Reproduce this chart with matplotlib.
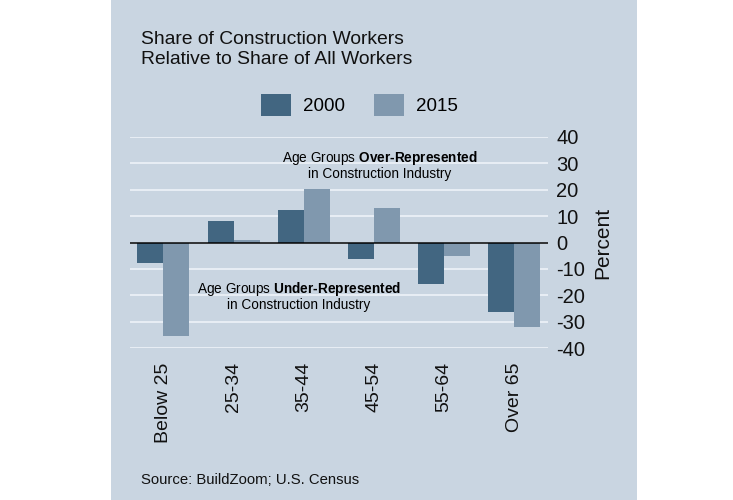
import numpy as np
import matplotlib.pyplot as plt
from matplotlib.patches import Rectangle

plt.rcParams['font.family'] = ['Liberation Sans', 'DejaVu Sans']
plt.rcParams['mathtext.fontset'] = 'custom'
plt.rcParams['mathtext.rm'] = 'Liberation Sans'
plt.rcParams['mathtext.bf'] = 'Liberation Sans:bold'
plt.rcParams['axes.unicode_minus'] = False

# data
age_groups = ['Below 25', '25-34', '35-44', '45-54', '55-64', 'Over 65']
share_2000 = [-7.7, 8.0, 12.2, -6.3, -15.8, -26.3]
share_2015 = [-35.3, 0.9, 20.2, 13.0, -5.0, -31.9]
y_ticks = [40, 30, 20, 10, 0, -10, -20, -30, -40]

BG = '#c9d5e1'
DARK = '#426681'
LIGHT = '#8098ae'

fig = plt.figure(figsize=(7.33, 5), dpi=100)
fig.patch.set_facecolor('white')
# light panel behind the chart
fig.patches.append(Rectangle((111 / 733, 0), 526 / 733, 1, transform=fig.transFigure,
                             facecolor=BG, edgecolor='none', zorder=-1))

ax = fig.add_axes([130 / 733, 0.3034, 418 / 733, 0.4232])
ax.set_facecolor('none')
ax.set_zorder(2)

x = np.arange(len(age_groups))
w = 0.37
ax.bar(x - w / 2, share_2000, width=w, color=DARK, label='2000', zorder=3)
ax.bar(x + w / 2, share_2015, width=w, color=LIGHT, label='2015', zorder=3)

ax.set_xlim(-0.475, 5.48)
ax.set_ylim(-40, 40)
ax.set_yticks(y_ticks)
ax.yaxis.grid(True, color='#eef3f8', linewidth=1.2, zorder=1)
ax.set_axisbelow(True)
ax.axhline(0, color='black', linewidth=1.1, zorder=4)
for s in ax.spines.values():
    s.set_visible(False)

ax.yaxis.tick_right()
ax.yaxis.set_label_position('right')
ax.tick_params(axis='y', length=0, pad=6, labelsize=14.5, colors='#111111')
ax.tick_params(axis='x', length=0, pad=10, labelsize=14, colors='#111111')
ax.set_xticks(x)
ax.set_xticklabels(age_groups, rotation=90, va='top')
ax.set_ylabel('Percent', fontsize=15, color='#111111', labelpad=6)

# annotations (two lines each, one text object)
over_txt = 'Age Groups $\\bf{Over\u2010Represented}$\nin Construction Industry'
under_txt = 'Age Groups $\\bf{Under\u2010Represented}$\nin Construction Industry'
ax.text(3.08, 29.3, over_txt, ha='center', va='center', multialignment='center',
        fontsize=9.8, linespacing=1.0)
ax.text(1.93, -20.4, under_txt, ha='center', va='center', multialignment='center',
        fontsize=9.8, linespacing=1.0)

fig.text(141 / 733, 1 - 40 / 500, 'Share of Construction Workers', fontsize=13.9, va='center', color='#111111')
fig.text(141 / 733, 1 - 60 / 500, 'Relative to Share of All Workers', fontsize=13.9, va='center', color='#111111')

leg = fig.legend(loc='center', bbox_to_anchor=(359 / 733, 1 - 105 / 500), ncol=2, frameon=False,
                 fontsize=13.5, handlelength=1.6, handleheight=1.4, columnspacing=1.55, handletextpad=0.64)

fig.text(141 / 733, 1 - 480 / 500, 'Source: BuildZoom; U.S. Census', fontsize=10.7, va='center', color='#111111')

fig.savefig('out.png', dpi=100)
